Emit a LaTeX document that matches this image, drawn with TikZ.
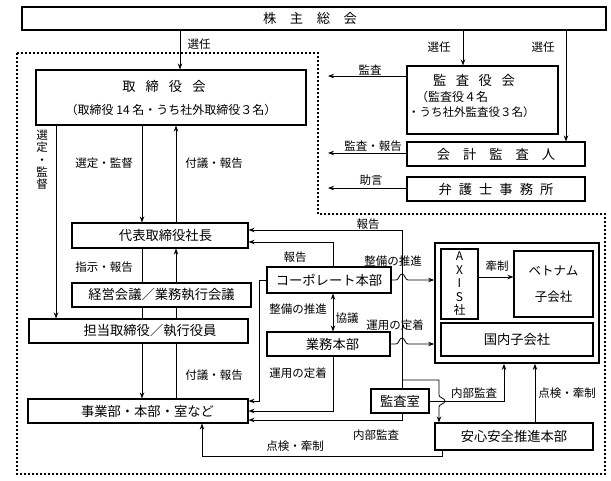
\documentclass[tikz,border=0pt]{standalone}
\usepackage{fontspec}
\setmainfont{Noto Sans CJK JP}
\usetikzlibrary{arrows.meta}
\begin{document}
\begin{tikzpicture}[x=1pt,y=-1pt,
  box/.style={draw,line width=1.1pt,fill=white,inner sep=0pt,align=center,font=\fontsize{13.3}{15}\selectfont},
  lbl/.style={inner sep=0pt,align=center,font=\fontsize{11.5}{13}\selectfont},
  ln/.style={line width=0.8pt},
  arr/.style={line width=0.8pt,-{Stealth[length=6pt,width=4.5pt]}},
  dbl/.style={line width=0.8pt,{Stealth[length=6pt,width=4.5pt]}-{Stealth[length=6pt,width=4.5pt]}},
  dots/.style={line width=2.2pt,dash pattern=on 2pt off 2pt}]
\useasboundingbox (0,0) rectangle (611,480);
\draw[dots] (17,53) -- (318,53) -- (318,214) -- (605,214) -- (605,474) -- (17,474) -- cycle;

% boxes
\node[box,minimum width=584pt,minimum height=23pt] (kabu) at (314,18.5) {株\hspace{13.5pt}主\hspace{13.5pt}総\hspace{13.5pt}会\hspace*{8pt}};
\node[box,minimum width=270pt,minimum height=55pt] (tori) at (171,97.5) {取\hspace{10pt}締\hspace{10pt}役\hspace{10pt}会\hspace*{14pt}\\[8pt]{\fontsize{12}{14}\selectfont（取締役 14 名・うち社外取締役３名）}};
\node[box,minimum width=151pt,minimum height=68pt] (kansayaku) at (482.5,100) {};
\node[lbl,font=\fontsize{13.3}{15}\selectfont] (kyt1) at (474,80) {監\hspace{9.5pt}査\hspace{9.5pt}役\hspace{9.5pt}会};
\node[lbl,font=\fontsize{12}{14}\selectfont,anchor=west] (kyt2) at (416,97) {（監査役４名};
\node[lbl,font=\fontsize{11.5}{13}\selectfont,anchor=west] (kyt3) at (408,112) {・うち社外監査役３名）};
\node[box,minimum width=178pt,minimum height=24pt] (kaikei) at (496,154) {会\hspace{13pt}計\hspace{13pt}監\hspace{13pt}査\hspace{13pt}人};
\node[box,minimum width=178pt,minimum height=24pt] (bengo) at (496,189) {弁\hspace{7pt}護\hspace{7pt}士\hspace{7pt}事\hspace{7pt}務\hspace{7pt}所};
\node[box,minimum width=176pt,minimum height=25pt] (daihyo) at (160,235.5) {\hspace*{11pt}代表取締役社長};
\node[box,minimum width=179pt,minimum height=24pt] (keiei) at (161.5,295) {経営会議／業務執行会議};
\node[box,minimum width=219pt,minimum height=24pt] (tanto) at (138.5,331) {\hspace*{23pt}担当取締役／執行役員};
\node[box,minimum width=220pt,minimum height=24pt] (jigyo) at (138,411) {\hspace*{19pt}事業部・本部・室など};
\node[box,minimum width=124pt,minimum height=26pt] (corp) at (329,280) {コーポレート本部};
\node[box,minimum width=123pt,minimum height=24pt] (gyomu) at (328.5,344) {\hspace*{8pt}業務本部};
\node[draw,line width=1.8pt,minimum width=164pt,minimum height=120pt,inner sep=0pt] (group) at (517,303) {};
\node[box,minimum width=37pt,minimum height=70pt,font=\fontsize{12}{13.5}\selectfont] (axis) at (459.5,284) {A\\X\\I\\S\\社};
\node[box,minimum width=79pt,minimum height=66pt,font=\fontsize{12.5}{14}\selectfont] (viet) at (553.5,284) {ベトナム\\[12pt]子会社};
\node[box,minimum width=152pt,minimum height=33pt] (kokunai) at (517,339.5) {国内子会社};
\node[box,minimum width=58pt,minimum height=24pt] (kansashitsu) at (400,401) {監査室};
\node[box,minimum width=158pt,minimum height=27pt] (anshin) at (514,436.5) {安心安全推進本部};

% free ends and junctions
\coordinate (f1) at (328,76);
\coordinate (f2) at (328,153);
\coordinate (f3) at (328,188);
\coordinate (jn) at (402,380);

% connectors
\draw[arr] (180,0 |- kabu.south) -- (180,0 |- tori.north);
\draw[arr] (463,0 |- kabu.south) -- (463,0 |- kansayaku.north);
\draw[arr] (566,0 |- kabu.south) -- (566,0 |- kaikei.north);
\draw[arr] (kansayaku.west |- f1) -- (f1);
\draw[arr] (kaikei.west |- f2) -- (f2);
\draw[arr] (bengo.west |- f3) -- (f3);

\draw[arr] (56,0 |- tori.south) -- (56,0 |- tanto.north);
\draw[arr] (142,0 |- tori.south) -- (142,0 |- daihyo.north);
\draw[arr] (176,0 |- daihyo.north) -- (176,0 |- tori.south);

\draw[ln] (142,0 |- daihyo.south) -- (142,0 |- keiei.north);
\draw[ln] (142,0 |- keiei.south) -- (142,0 |- tanto.north);
\draw[arr] (142,0 |- tanto.south) -- (142,0 |- jigyo.north);
\draw[ln] (176,0 |- jigyo.north) -- (176,0 |- tanto.south);
\draw[ln] (176,0 |- tanto.north) -- (176,0 |- keiei.south);
\draw[arr] (176,0 |- keiei.north) -- (176,0 |- daihyo.south);

\draw[arr] (333,0 |- corp.north) |- (daihyo.east |- 0,242);
\draw[arr] (402,0 |- kansashitsu.north) |- (daihyo.east |- 0,230);
\draw[dbl] (333,0 |- corp.south) -- (333,0 |- gyomu.north);

\draw[arr] (corp.east) -- (396,280) .. controls (399,280) and (399,274) .. (402,274) .. controls (405,274) and (405,280) .. (408,280) -- (group.west |- corp.east);
\draw[arr] (gyomu.east) -- (396,344) .. controls (399,344) and (399,338) .. (402,338) .. controls (405,338) and (405,344) .. (408,344) -- (group.west |- gyomu.east);

\draw[arr] (corp.west) -- (259,0 |- corp.west) |- (jigyo.east |- 0,401);
\draw[arr] (333,0 |- gyomu.south) |- (jigyo.east);
\draw[arr] (402,0 |- kansashitsu.south) |- (jigyo.east |- 0,420);

\draw[arr] (kansashitsu.east) -| (504,0 |- group.south);
\draw[arr] (jn) -- (439,380) -- (439,395) .. controls (439,398) and (445,398) .. (445,401) .. controls (445,404) and (439,404) .. (439,407) -- (439,0 |- anshin.north);
\draw[arr] (535,0 |- anshin.north) -- (535,0 |- group.south);
\draw[arr] (442,0 |- anshin.south) |- (202,456) -- (202,0 |- jigyo.south);
\draw[arr] (axis.east |- 0,277) -- (viet.west |- 0,277);

% labels
\node[lbl] (l1) at (199,44) {選任};
\node[lbl] (l2) at (439,47) {選任};
\node[lbl] (l3) at (543,47) {選任};
\node[lbl] (l4) at (370,70) {監査};
\node[lbl] (l5) at (373,146) {監査・報告};
\node[lbl] (l6) at (371,180) {助言};
\node[lbl,font=\fontsize{11.5}{12.3}\selectfont] (l7) at (42,160) {選\\定\\・\\監\\督};
\node[lbl] (l8) at (104,163) {選定・監督};
\node[lbl] (l9) at (214,163) {付議・報告};
\node[lbl] (l10) at (104,267) {指示・報告};
\node[lbl] (l11) at (214,375) {付議・報告};
\node[lbl] (l12) at (295,257) {報告};
\node[lbl] (l13) at (368,224) {報告};
\node[lbl] (l14) at (393,261) {整備の推進};
\node[lbl] (l15) at (298,309) {整備の推進};
\node[lbl] (l16) at (347,318) {協議};
\node[lbl] (l17) at (395,325) {運用の定着};
\node[lbl] (l18) at (298,373) {運用の定着};
\node[lbl] (l19) at (497,266) {牽制};
\node[lbl] (l20) at (474,393) {内部監査};
\node[lbl] (l21) at (567,393) {点検・牽制};
\node[lbl] (l22) at (376,435) {内部監査};
\node[lbl] (l23) at (295,446) {点検・牽制};
\end{tikzpicture}
\end{document}
